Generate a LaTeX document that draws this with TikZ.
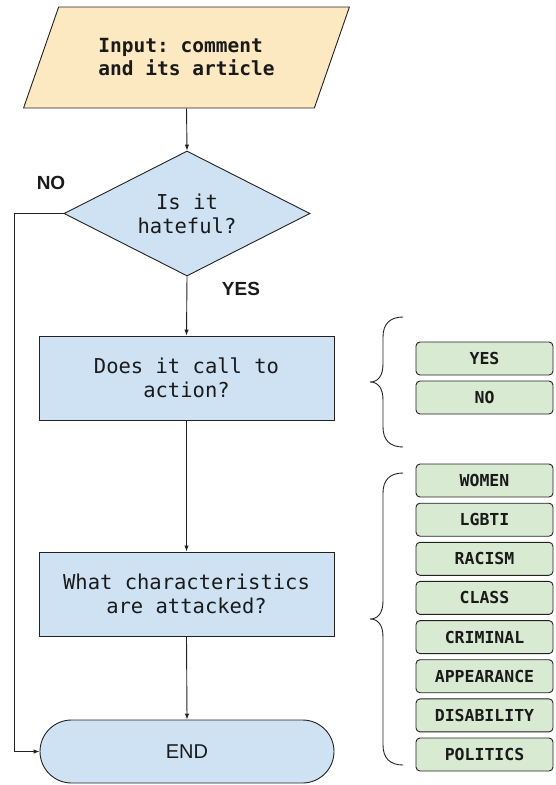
\documentclass[tikz,border=0pt]{standalone}
\usepackage{fontspec}
\setmonofont{DejaVu Sans Mono}
\newfontfamily\labfont{Liberation Sans}
\usetikzlibrary{shapes.geometric,arrows.meta}
\definecolor{inyellow}{HTML}{FCE9C2}
\definecolor{qblue}{HTML}{CFE2F3}
\definecolor{optgreen}{HTML}{D9EAD3}
\definecolor{edgecol}{HTML}{222222}
\definecolor{ink}{HTML}{1A1A1A}
\begin{document}
\begin{tikzpicture}[x=1pt,y=-1pt,
  inputbox/.style={trapezium, trapezium left angle=57.2, trapezium right angle=122.8,
    trapezium stretches=true, minimum width=327pt, minimum height=101pt, inner sep=0pt,
    draw=edgecol, fill=inyellow, line width=0.9pt, align=left, text=ink,
    font=\ttfamily\bfseries\fontsize{19.5}{23}\selectfont},
  decision/.style={diamond, aspect=1.97, minimum width=246pt, minimum height=125pt, inner sep=0pt,
    draw=edgecol, fill=qblue, line width=0.9pt, align=center, text=ink,
    font=\ttfamily\fontsize{20.5}{24}\selectfont},
  procbox/.style={rectangle, minimum width=295pt, minimum height=84pt, inner sep=0pt,
    draw=edgecol, fill=qblue, line width=0.9pt, align=center, text=ink,
    font=\ttfamily\fontsize{20.5}{24}\selectfont},
  terminal/.style={rectangle, rounded corners=31.5pt, minimum width=294pt, minimum height=63pt, inner sep=0pt,
    draw=edgecol, fill=qblue, line width=0.9pt, text=ink,
    font=\labfont\fontsize{20}{24}\selectfont},
  optbox/.style={rectangle, rounded corners=4pt, minimum width=137pt, minimum height=33pt, inner sep=0pt,
    draw=edgecol, fill=optgreen, line width=0.9pt, text=ink,
    font=\ttfamily\bfseries\fontsize{16.5}{20}\selectfont},
  answer/.style={text=ink, font=\labfont\bfseries\fontsize{19}{22}\selectfont},
  flow/.style={draw=edgecol, line width=0.9pt, -{Latex[length=6pt,width=4.5pt]}},
  bracestyle/.style={draw=edgecol, line width=0.9pt}
]
\useasboundingbox (0,0) rectangle (555,785);

\node[inputbox] (input) at (186.5,57.5) {Input: comment\\and its article};
\node[decision] (hate) at (187,213.5) {Is it\\hateful?};
\node[procbox] (call) at (186.5,378) {Does it call to\\action?};
\node[procbox] (chars) at (186.5,594) {What characteristics\\are attacked?};
\node[terminal] (endnode) at (187,751.5) {END};

\node[answer] (nolab) at (51,183) {NO};
\node[answer] (yeslab) at (241,289) {YES};

\coordinate (nocorner) at (14,213.5);

\draw[flow] (input.south) -- (hate.north);
\draw[flow] (hate.south) -- (call.north);
\draw[flow] (call.south) -- (chars.north);
\draw[flow] (chars.south) -- (endnode.north);
\draw[flow] (hate.west) -- (nocorner) |- (endnode.west);

% options for call to action
\node[optbox] (optyes) at (484.5,358.5) {YES};
\node[optbox] (optno) at (484.5,397.5) {NO};

% characteristics
\node[optbox] (women) at (484.5,480.5) {WOMEN};
\node[optbox] (lgbti) at (484.5,519.7) {LGBTI};
\node[optbox] (racism) at (484.5,558.8) {RACISM};
\node[optbox] (class) at (484.5,597.9) {CLASS};
\node[optbox] (criminal) at (484.5,637.1) {CRIMINAL};
\node[optbox] (appearance) at (484.5,676.2) {APPEARANCE};
\node[optbox] (disability) at (484.5,715.4) {DISABILITY};
\node[optbox] (politics) at (484.5,754.5) {POLITICS};

% braces
\draw[bracestyle] (403,317) .. controls (390,317) and (383,324) .. (383,337)
  -- (383,364) .. controls (383,376) and (378,382) .. (370,382)
  .. controls (378,382) and (383,388) .. (383,400)
  -- (383,427) .. controls (383,440) and (390,447) .. (403,447);
\draw[bracestyle] (403,473) .. controls (390,473) and (383,480) .. (383,493)
  -- (383,601) .. controls (383,613) and (378,619) .. (370,619)
  .. controls (378,619) and (383,625) .. (383,637)
  -- (383,745) .. controls (383,758) and (390,765) .. (403,765);
\end{tikzpicture}
\end{document}
